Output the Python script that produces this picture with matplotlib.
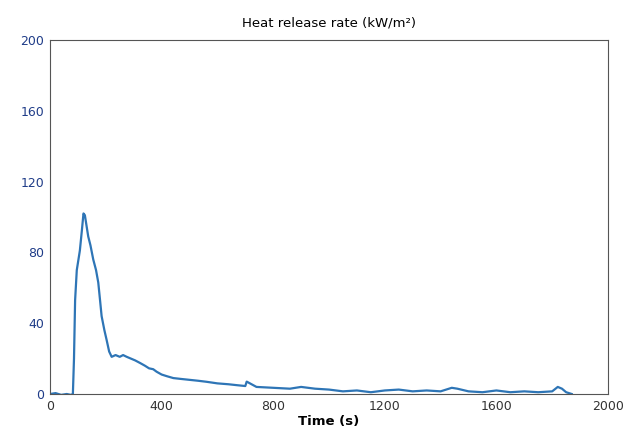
import matplotlib
matplotlib.use("Agg")
import matplotlib.pyplot as plt

time_s = [0, 20, 40, 60, 75, 82, 86, 90, 96, 102, 107, 114, 120, 125, 130, 137, 145, 155, 165, 173, 180, 185, 195, 203, 212, 221, 235, 250, 262, 275, 290, 305, 323, 340, 355, 370, 382, 400, 420, 442, 470, 500, 530, 561, 600, 640, 669, 700, 705, 740, 800, 860, 900, 950, 1000, 1050, 1100, 1150, 1200, 1250, 1300, 1350, 1400, 1440, 1460, 1500, 1550, 1600, 1650, 1700, 1750, 1800, 1820, 1835, 1850, 1870]
hrr = [0, 0.5, -0.5, 0, -0.5, 0, 20, 53, 70, 76, 81, 92, 102, 101, 96, 89, 84, 76, 70, 63, 52, 44, 36, 30.5, 24, 21, 22, 21, 22, 21, 20, 19, 17.5, 16, 14.5, 14, 12.6, 11, 10, 9, 8.5, 8, 7.5, 6.9, 6, 5.5, 5, 4.5, 7, 4, 3.5, 3, 4, 3, 2.5, 1.5, 2, 1, 2, 2.5, 1.5, 2, 1.5, 3.5, 3, 1.5, 1, 2, 1, 1.5, 1, 1.5, 4, 3, 1, 0]

fig = plt.figure(figsize=(6.24, 4.4), dpi=100)
ax = fig.add_axes([50/624, 46/440, 558/624, 354/440])
ax.plot(time_s, hrr, color="#2e75b6", lw=1.6)
ax.set_xlim(0, 2000)
ax.set_ylim(0, 200)
ax.set_xticks(range(0, 2001, 400))
ax.set_yticks(range(0, 201, 40))
ax.tick_params(labelsize=9, colors="#333333", length=0, pad=4)
for lab in ax.get_yticklabels():
    lab.set_color("#1f3c88")
ax.set_title("Heat release rate (kW/m²)", fontsize=9.5, pad=10)
ax.set_xlabel("Time (s)", fontsize=9.5, fontweight="bold", labelpad=2)
for s in ax.spines.values():
    s.set_color("#555555")
fig.savefig("out.png", dpi=100)
